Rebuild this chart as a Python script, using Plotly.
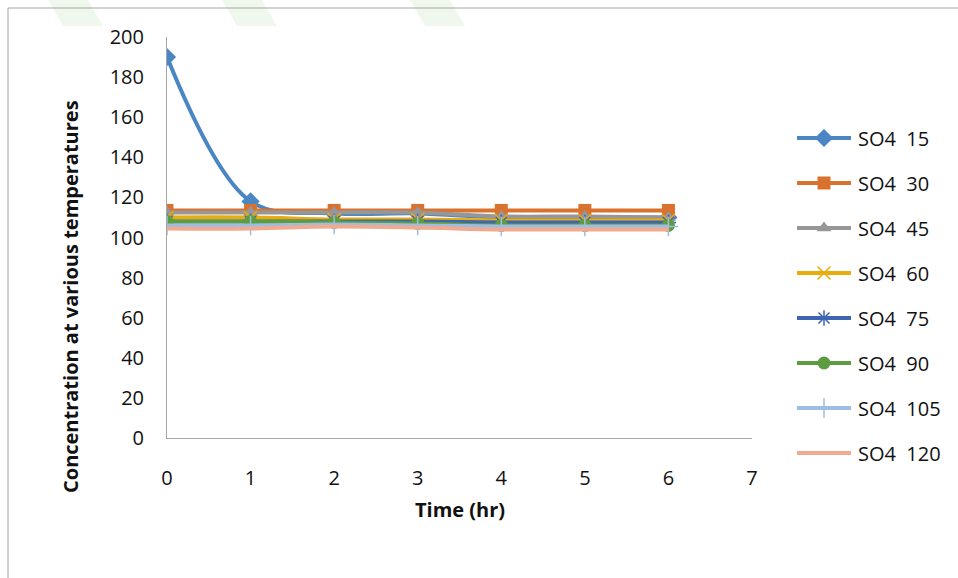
import plotly.graph_objects as go

# ---- data -------------------------------------------------------------
time_hr = [0, 1, 2, 3, 4, 5, 6]

series_names = ["SO4  15", "SO4  30", "SO4  45", "SO4  60",
                "SO4  75", "SO4  90", "SO4  105", "SO4  120"]

so4_15 = [190, 118, 112, 112, 110, 110, 110]
so4_30 = [113.5, 113.5, 113.5, 113.5, 113.5, 113.5, 113.5]
so4_45 = [112.5, 112.5, 112.5, 112.5, 110.5, 110.5, 110]
so4_60 = [110, 110, 109, 109, 108.5, 108.5, 108.5]
so4_75 = [108, 108, 108, 108, 107.5, 107.5, 107.5]
so4_90 = [108, 108, 107.5, 107, 106, 106, 106]
so4_105 = [106, 106, 106.5, 106, 105.5, 105.5, 105.5]
so4_120 = [104.5, 104.5, 105.5, 105, 104, 104, 104]

all_series = [so4_15, so4_30, so4_45, so4_60, so4_75, so4_90, so4_105, so4_120]

x_ticks = [0, 1, 2, 3, 4, 5, 6, 7]
y_ticks = [0, 20, 40, 60, 80, 100, 120, 140, 160, 180, 200]

# ---- styling ----------------------------------------------------------
colors = ["#4A86C4", "#D9722F", "#979797", "#E8AC0C",
          "#3F66B2", "#5E9C40", "#9DBDE3", "#F0AA8F"]
symbols = ["diamond", "square", "triangle-up", "x-thin-open",
           "asterisk-open", "circle", "cross-thin-open", None]
sizes = [14, 13, 13, 13, 13, 13, 14, 0]

FONT = "Open Sans"
W, H = 958, 578
PL, PR, PT, PB = 167, 752, 37, 438  # plot area in page pixels

fig = go.Figure()


def marker_for(i):
    sym = symbols[i]
    if sym is None:
        return dict(size=0, opacity=0)
    if sym.endswith("-open"):
        return dict(symbol=sym, size=sizes[i], color=colors[i],
                    line=dict(color=colors[i], width=1.5))
    return dict(symbol=sym, size=sizes[i], color=colors[i],
                line=dict(width=0))


for i, (name, vals) in enumerate(zip(series_names, all_series)):
    fig.add_trace(go.Scatter(
        x=time_hr, y=vals, name=name,
        mode="lines+markers" if symbols[i] else "lines",
        line=dict(color=colors[i], width=4, shape="spline", smoothing=1.0),
        marker=marker_for(i),
        xaxis="x", yaxis="y", showlegend=False,
    ))

# ---- legend drawn on a page-pixel overlay ------------------------------
LEG_X0, LEG_X1, LEG_TXT = 797, 851, 856
LEG_Y0, LEG_DY = 138, 45
for i, name in enumerate(series_names):
    ly = LEG_Y0 + LEG_DY * i
    fig.add_trace(go.Scatter(
        x=[LEG_X0, LEG_X1], y=[ly, ly], mode="lines",
        line=dict(color=colors[i], width=4),
        xaxis="x2", yaxis="y2", showlegend=False, hoverinfo="skip",
    ))
    if symbols[i]:
        fig.add_trace(go.Scatter(
            x=[(LEG_X0 + LEG_X1) / 2], y=[ly], mode="markers",
            marker=marker_for(i),
            xaxis="x2", yaxis="y2", showlegend=False, hoverinfo="skip",
        ))
    fig.add_annotation(x=LEG_TXT, y=ly, xref="x2", yref="y2",
                       text=name, showarrow=False, xanchor="left",
                       yanchor="middle",
                       font=dict(family=FONT, size=20, color="#111111"))

# axis titles
fig.add_annotation(x=460, y=509, xref="x2", yref="y2",
                   text="<b>Time (hr)</b>", showarrow=False,
                   font=dict(family=FONT, size=20, color="#111111"))
fig.add_annotation(x=70, y=297, xref="x2", yref="y2",
                   text="<b>Concentration at various temperatures</b>",
                   textangle=-90, showarrow=False,
                   font=dict(family=FONT, size=20, color="#111111"))

# outer frame
frame = dict(color="#A6A6A6", width=1)
fig.add_shape(type="line", x0=8, x1=W, y0=8, y1=8,
              xref="x2", yref="y2", line=frame)
fig.add_shape(type="line", x0=8, x1=8, y0=8, y1=H,
              xref="x2", yref="y2", line=frame)

# faint background watermark bands at the top edge
for x0 in (48, 222, 410):
    fig.add_shape(type="path",
                  path=f"M{x0},0 L{x0 + 40},0 L{x0 + 55},26 L{x0 + 15},26 Z",
                  xref="x2", yref="y2", layer="below",
                  fillcolor="rgba(222,240,216,0.45)", line=dict(width=0))

axis_font = dict(family=FONT, size=20, color="#111111")
fig.update_layout(
    template="none",
    width=W, height=H,
    margin=dict(l=0, r=0, t=0, b=0, pad=0, autoexpand=False),
    paper_bgcolor="white", plot_bgcolor="rgba(0,0,0,0)",
    showlegend=False,
    xaxis=dict(domain=[PL / W, PR / W], range=[0, 7], automargin=False,
               tickvals=x_ticks, ticks="", showgrid=False, zeroline=False,
               showline=True, linecolor="#A6A6A6", linewidth=1,
               tickfont=axis_font, ticklabelstandoff=22, anchor="y"),
    yaxis=dict(domain=[1 - PB / H, 1 - PT / H], range=[0, 200],
               automargin=False,
               tickvals=y_ticks, ticks="", showgrid=False, zeroline=False,
               showline=True, linecolor="#A6A6A6", linewidth=1,
               tickfont=axis_font, ticklabelstandoff=18, anchor="x"),
    xaxis2=dict(domain=[0, 1], range=[0, W], visible=False,
                automargin=False, anchor="y2", fixedrange=True),
    yaxis2=dict(domain=[0, 1], range=[H, 0], visible=False,
                automargin=False, anchor="x2", fixedrange=True),
)

fig.write_html("out.html")
